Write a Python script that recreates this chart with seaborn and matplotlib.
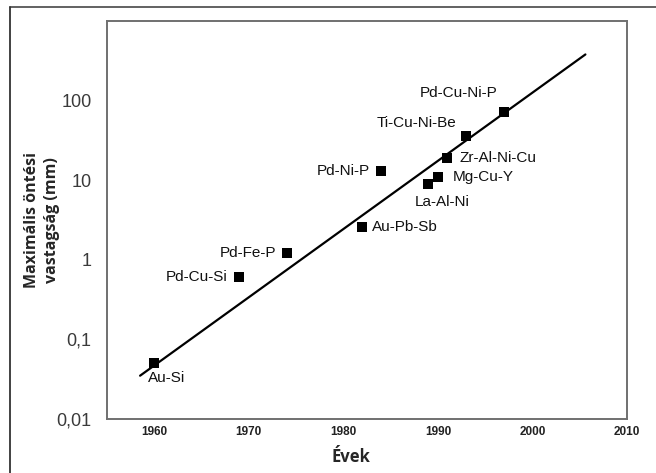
import numpy as np
import pandas as pd
import matplotlib
matplotlib.use('Agg')
from matplotlib import pyplot as plt
from matplotlib.lines import Line2D
import seaborn as sns

# data
alloys = ['Au-Si', 'Pd-Cu-Si', 'Pd-Fe-P', 'Au-Pb-Sb', 'Pd-Ni-P', 'La-Al-Ni',
          'Mg-Cu-Y', 'Zr-Al-Ni-Cu', 'Ti-Cu-Ni-Be', 'Pd-Cu-Ni-P']
years = [1960, 1969, 1974, 1982, 1984, 1989, 1990, 1991, 1993, 1997]
thickness = [0.05, 0.6, 1.2, 2.6, 13, 9, 11, 19, 36, 72]

# trend line end points
fit_years = [1958.5, 2005.6]
fit_thickness = [0.035, 380]

y_ticks = [0.01, 0.1, 1, 10, 100]
y_tick_labels = ['0,01', '0,1', '1', '10', '100']
x_ticks = [1960, 1970, 1980, 1990, 2000, 2010]

# label offsets in pixels (dx, dy up), alignment
label_pos = {
    'Au-Si': (-6, -8, 'left', 'top'),
    'Pd-Cu-Si': (-12, 0, 'right', 'center'),
    'Pd-Fe-P': (-10, 0, 'right', 'center'),
    'Au-Pb-Sb': (10, 0, 'left', 'center'),
    'Pd-Ni-P': (-11, 0, 'right', 'center'),
    'La-Al-Ni': (14, -18, 'center', 'center'),
    'Mg-Cu-Y': (15, 0, 'left', 'center'),
    'Zr-Al-Ni-Cu': (12, 0, 'left', 'center'),
    'Ti-Cu-Ni-Be': (-10, 13, 'right', 'center'),
    'Pd-Cu-Ni-P': (-45, 19, 'center', 'center'),
}

df = pd.DataFrame({'alloy': alloys, 'year': years, 'thickness': thickness})
fit = pd.DataFrame({'year': fit_years, 'thickness': fit_thickness})

sns.set_style('white')
plt.rcParams['font.family'] = ['Liberation Sans', 'DejaVu Sans']

fig = plt.figure(figsize=(6.56, 4.73), dpi=100)
ax = fig.add_axes([107/656, 1 - 419/473, 520/656, 398/473])

sns.lineplot(data=fit, x='year', y='thickness', color='black', linewidth=1.6, ax=ax)
sns.scatterplot(data=df, x='year', y='thickness', marker='s', color='black',
                s=55, edgecolor='black', linewidth=0, zorder=3, ax=ax)

ax.set_yscale('log')
ax.set_xlim(1955, 2010)
ax.set_ylim(0.01, 1000)
ax.set_yticks(y_ticks)
ax.set_yticklabels(y_tick_labels)
ax.yaxis.set_minor_locator(matplotlib.ticker.NullLocator())
ax.set_xticks(x_ticks)
ax.set_xticklabels([str(t) for t in x_ticks])

for s in ax.spines.values():
    s.set_color('#707070')
    s.set_linewidth(1.4)

ax.tick_params(axis='y', direction='in', length=9, width=1.2, color='#707070',
               labelsize=13, labelcolor='#3a3a3a', pad=11)
ax.tick_params(axis='x', direction='in', length=9, width=1.2, color='#606060',
               labelsize=8.5, labelcolor='#222222', pad=5)
for lab in ax.get_xticklabels():
    lab.set_fontweight('bold')

for name, yr, th in zip(alloys, years, thickness):
    dx, dy, ha, va = label_pos[name]
    ax.annotate(name, (yr, th), xytext=(dx * 0.72, dy * 0.72), textcoords='offset points',
                ha=ha, va=va, fontsize=11, color='#111111')

ax.set_xlabel('')
ax.set_ylabel('')
fig.text(351/656, 1 - 457/473, 'Évek', ha='center', va='center',
         fontsize=12, fontweight='bold', family='Open Sans')
fig.text(42/656, 1 - 220/473, 'Maximális öntési\nvastagság (mm)', ha='center', va='center',
         rotation=90, fontsize=11.5, fontweight='bold', family='Open Sans',
         linespacing=1.3)

# outer frame
fig.add_artist(Line2D([10/656, 1.0], [1 - 7/473, 1 - 7/473], transform=fig.transFigure,
                      color='#555555', linewidth=1.3))
fig.add_artist(Line2D([10/656, 10/656], [0.0, 1 - 7/473], transform=fig.transFigure,
                      color='#333333', linewidth=1.3))

fig.savefig('out.png', dpi=100)
